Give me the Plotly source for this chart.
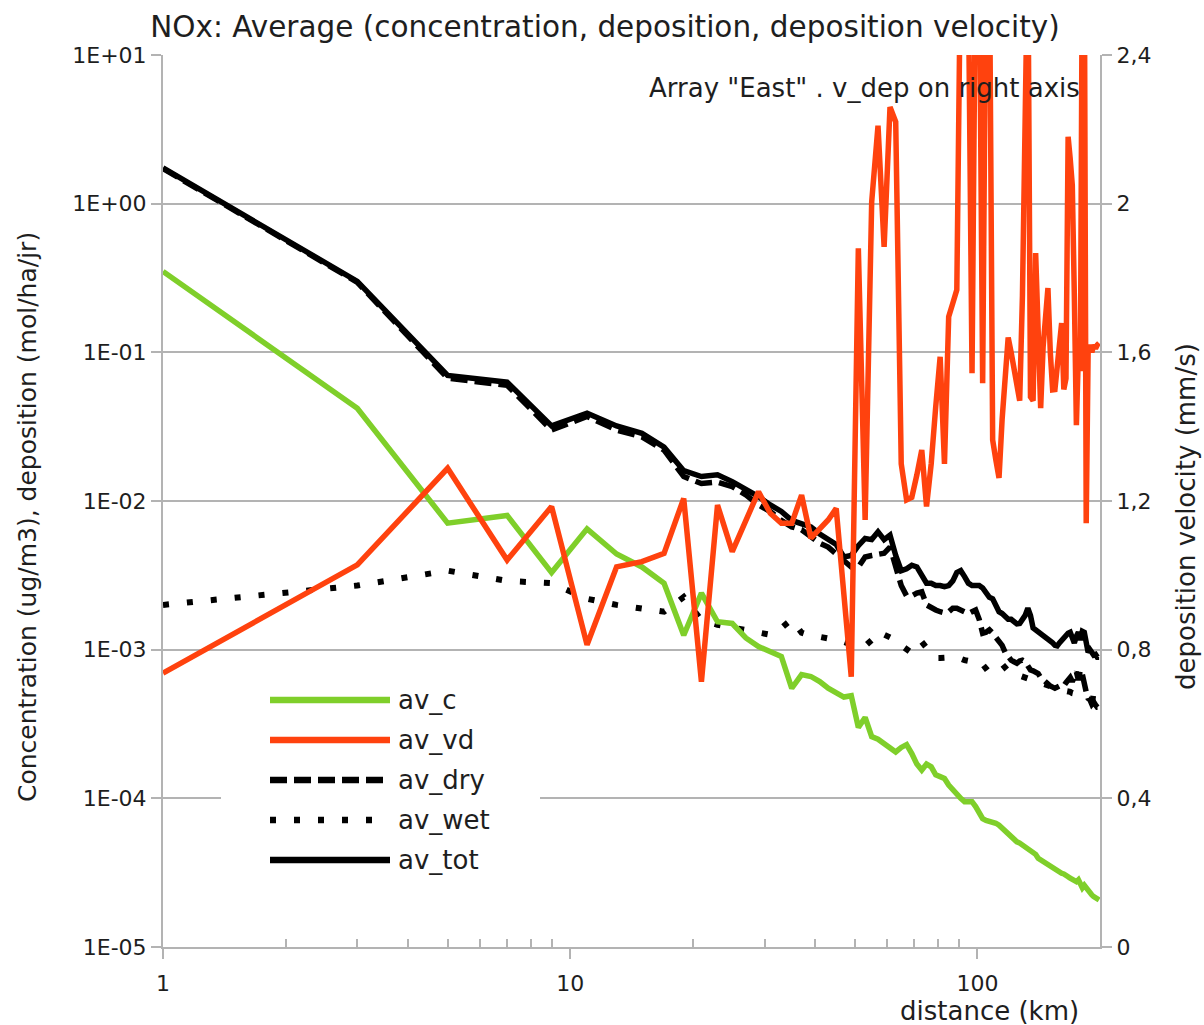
import plotly.graph_objects as go

# ---------------- data ----------------
DISTANCE_KM = [1, 3, 5, 7, 9, 11, 13, 15, 17, 19,
               21, 23, 25, 27, 29, 31, 33, 35, 37, 39,
               41, 43, 45, 47, 49, 51, 53, 55, 57, 59,
               61, 63, 65, 67, 69, 71, 73, 75, 77, 79,
               81, 83, 85, 87, 89, 91, 93, 95, 97, 99,
               101, 103, 105, 107, 109, 111, 113, 115, 117, 119,
               121, 123, 125, 127, 129, 131, 133, 135, 137, 139,
               141, 143, 145, 147, 149, 151, 153, 155, 157, 159,
               161, 163, 165, 167, 169, 171, 173, 175, 177, 179,
               181, 183, 185, 187, 189, 191, 193, 195, 197, 199]

AV_C = [0.35, 0.042, 7.1e-3, 8.0e-3, 3.3e-3, 6.5e-3, 4.4e-3, 3.6e-3, 2.8e-3, 1.25e-3,
        2.4e-3, 1.54e-3, 1.5e-3, 1.2e-3, 1.05e-3, 9.7e-4, 9.0e-4, 5.5e-4, 6.8e-4, 6.6e-4,
        6.1e-4, 5.5e-4, 5.1e-4, 4.8e-4, 4.9e-4, 3.0e-4, 3.5e-4, 2.6e-4, 2.5e-4, 2.35e-4,
        2.2e-4, 2.05e-4, 2.2e-4, 2.3e-4, 2.0e-4, 1.7e-4, 1.55e-4, 1.7e-4, 1.63e-4, 1.44e-4,
        1.4e-4, 1.36e-4, 1.23e-4, 1.14e-4, 1.05e-4, 1.0e-4, 9.5e-5, 9.5e-5, 9.5e-5, 8.8e-5,
        7.9e-5, 7.3e-5, 7.1e-5, 7.0e-5, 7.0e-5, 6.8e-5, 6.6e-5, 6.3e-5, 6.0e-5, 5.7e-5,
        5.4e-5, 5.25e-5, 5.1e-5, 5.0e-5, 4.85e-5, 4.6e-5, 4.5e-5, 4.4e-5, 4.3e-5, 4.2e-5,
        3.95e-5, 3.85e-5, 3.75e-5, 3.65e-5, 3.55e-5, 3.45e-5, 3.4e-5, 3.3e-5, 3.25e-5, 3.2e-5,
        3.13e-5, 3.1e-5, 3.0e-5, 2.97e-5, 2.9e-5, 2.87e-5, 2.83e-5, 2.75e-5, 2.83e-5, 2.6e-5,
        2.5e-5, 2.6e-5, 2.5e-5, 2.35e-5, 2.3e-5, 2.24e-5, 2.18e-5, 2.14e-5, 2.1e-5, 2.07e-5]

AV_VD = [0.737, 1.028, 1.288, 1.041, 1.185, 0.813, 1.023, 1.037, 1.059, 1.207,
         0.714, 1.189, 1.064, 1.149, 1.225, 1.167, 1.14, 1.14, 1.216, 1.10,
         1.127, 1.149, 1.18, 0.956, 0.727, 1.88, 1.149, 2.005, 2.21, 1.884,
         2.26, 2.22, 1.30, 1.203, 1.21, 1.27, 1.337, 1.185, 1.30, 1.454,
         1.588, 1.30, 1.696, 1.732, 1.768, 2.7, 2.7, 2.6, 1.544, 2.7,
         2.7, 1.517, 2.7, 2.7, 1.364, 1.31, 1.262, 1.42, 1.55, 1.64,
         1.60, 1.56, 1.52, 1.47, 1.754, 2.7, 2.7, 1.48, 1.47, 1.867,
         1.65, 1.45, 1.615, 1.70, 1.773, 1.60, 1.499, 1.50, 1.55, 1.62,
         1.679, 1.50, 1.53, 2.18, 2.12, 2.05, 1.75, 1.404, 1.60, 1.55,
         2.7, 2.7, 1.14, 1.598, 1.62, 1.60, 1.62, 1.61, 1.62, 1.625]

AV_DRY = [1.72, 0.296, 0.067, 0.060, 0.030, 0.037, 0.030, 0.027, 0.022, 0.0146,
          0.0131, 0.0134, 0.0125, 0.011, 9.4e-3, 8.5e-3, 7.4e-3, 6.7e-3, 6.4e-3, 5.7e-3,
          5.2e-3, 4.9e-3, 4.4e-3, 3.9e-3, 3.6e-3, 3.6e-3, 4.2e-3, 4.3e-3, 4.4e-3, 4.45e-3,
          4.9e-3, 3.7e-3, 2.7e-3, 2.3e-3, 2.3e-3, 2.4e-3, 2.45e-3, 2.0e-3, 1.9e-3, 1.85e-3,
          1.8e-3, 1.77e-3, 1.8e-3, 1.9e-3, 1.9e-3, 1.85e-3, 1.77e-3, 1.75e-3, 1.8e-3, 1.85e-3,
          1.6e-3, 1.29e-3, 1.31e-3, 1.36e-3, 1.29e-3, 1.21e-3, 1.16e-3, 1.07e-3, 9.6e-4, 8.9e-4,
          8.5e-4, 8.3e-4, 8.1e-4, 8.4e-4, 8.5e-4, 8.3e-4, 7.6e-4, 7.3e-4, 7.2e-4, 7.1e-4,
          6.9e-4, 6.5e-4, 6.25e-4, 6.1e-4, 5.9e-4, 5.7e-4, 5.6e-4, 5.5e-4, 5.6e-4, 5.7e-4,
          5.6e-4, 5.7e-4, 6.0e-4, 6.25e-4, 6.5e-4, 6.1e-4, 6.65e-4, 7.1e-4, 6.25e-4, 7.3e-4,
          6.8e-4, 5.6e-4, 5.2e-4, 4.7e-4, 4.6e-4, 4.3e-4, 4.45e-4, 4.25e-4, 4.1e-4, 4.1e-4]

AV_WET = [2.0e-3, 2.7e-3, 3.4e-3, 2.9e-3, 2.8e-3, 2.2e-3, 2.0e-3, 1.9e-3, 1.8e-3, 2.26e-3,
          1.58e-3, 1.47e-3, 1.4e-3, 1.34e-3, 1.3e-3, 1.26e-3, 1.4e-3, 1.6e-3, 1.3e-3, 1.24e-3,
          1.22e-3, 1.2e-3, 1.16e-3, 1.13e-3, 1.07e-3, 1.04e-3, 1.06e-3, 1.16e-3, 1.32e-3, 1.27e-3,
          1.22e-3, 1.16e-3, 1.07e-3, 1.0e-3, 9.5e-4, 1.04e-3, 1.13e-3, 1.03e-3, 9.5e-4, 8.8e-4,
          8.8e-4, 8.9e-4, 8.9e-4, 8.9e-4, 8.9e-4, 8.6e-4, 8.5e-4, 8.4e-4, 8.1e-4, 7.8e-4,
          7.4e-4, 7.3e-4, 7.6e-4, 8.0e-4, 8.3e-4, 8.4e-4, 8.3e-4, 8.0e-4, 7.5e-4, 7.1e-4,
          6.8e-4, 6.9e-4, 6.8e-4, 6.7e-4, 6.6e-4, 6.5e-4, 6.4e-4, 6.4e-4, 6.3e-4, 6.2e-4,
          6.1e-4, 6.0e-4, 5.95e-4, 5.9e-4, 5.8e-4, 5.7e-4, 5.6e-4, 5.5e-4, 5.5e-4, 5.4e-4,
          5.4e-4, 5.3e-4, 5.3e-4, 5.2e-4, 5.2e-4, 5.1e-4, 5.1e-4, 5.0e-4, 5.0e-4, 4.9e-4,
          4.9e-4, 4.9e-4, 4.8e-4, 4.8e-4, 4.7e-4, 4.7e-4, 4.7e-4, 4.6e-4, 4.6e-4, 4.6e-4]

AV_TOT = [1.74, 0.30, 0.070, 0.063, 0.032, 0.039, 0.032, 0.0285, 0.023, 0.016,
          0.0146, 0.015, 0.0135, 0.012, 0.0107, 9.4e-3, 8.5e-3, 7.4e-3, 7.1e-3, 6.7e-3,
          6.0e-3, 5.5e-3, 5.1e-3, 4.2e-3, 4.3e-3, 5.0e-3, 5.6e-3, 5.5e-3, 6.2e-3, 5.5e-3,
          5.9e-3, 4.3e-3, 3.4e-3, 3.5e-3, 3.7e-3, 3.6e-3, 3.2e-3, 2.8e-3, 2.8e-3, 2.7e-3,
          2.7e-3, 2.65e-3, 2.7e-3, 2.9e-3, 3.3e-3, 3.4e-3, 3.1e-3, 2.8e-3, 2.7e-3, 2.7e-3,
          2.7e-3, 2.6e-3, 2.45e-3, 2.25e-3, 2.2e-3, 2.0e-3, 1.8e-3, 1.75e-3, 1.65e-3, 1.6e-3,
          1.6e-3, 1.53e-3, 1.49e-3, 1.5e-3, 1.6e-3, 1.7e-3, 1.9e-3, 1.7e-3, 1.4e-3, 1.36e-3,
          1.31e-3, 1.27e-3, 1.25e-3, 1.23e-3, 1.2e-3, 1.14e-3, 1.11e-3, 1.07e-3, 1.06e-3, 1.11e-3,
          1.16e-3, 1.2e-3, 1.23e-3, 1.29e-3, 1.31e-3, 1.2e-3, 1.11e-3, 1.23e-3, 1.31e-3, 1.16e-3,
          1.33e-3, 1.31e-3, 1.07e-3, 9.6e-4, 1.0e-3, 9.5e-4, 9.2e-4, 9.3e-4, 8.9e-4, 8.9e-4]

SERIES_NAMES = ["av_c", "av_vd", "av_dry", "av_wet", "av_tot"]
LEFT_TICKS = [1e-5, 1e-4, 1e-3, 1e-2, 1e-1, 1, 10]
LEFT_TICKTEXT = ["1E-05", "1E-04", "1E-03", "1E-02", "1E-01", "1E+00", "1E+01"]
RIGHT_TICKS = [0, 0.4, 0.8, 1.2, 1.6, 2.0, 2.4]
RIGHT_TICKTEXT = ["0", "0,4", "0,8", "1,2", "1,6", "2", "2,4"]
X_TICKS = [1, 10, 100]
X_TICKTEXT = ["1", "10", "100"]
X_MINOR = [2, 3, 4, 5, 6, 7, 8, 9, 20, 30, 40, 50, 60, 70, 80, 90]

# ---------------- styling ----------------
FONT = "DejaVu Sans"
TXT = "#1e1e1e"
GRID = "#b3b3b3"
GREEN = "#7fcf2a"
RED = "#ff420e"
BLACK = "#000000"
LW = 5.5
DASH_DRY = "17px,7px"
DASH_WET = "6px,18px"

fig = go.Figure()

fig.add_trace(go.Scatter(x=DISTANCE_KM, y=AV_DRY, name=SERIES_NAMES[2], mode="lines",
                         line=dict(color=BLACK, width=LW, dash=DASH_DRY), yaxis="y"))
fig.add_trace(go.Scatter(x=DISTANCE_KM, y=AV_WET, name=SERIES_NAMES[3], mode="lines",
                         line=dict(color=BLACK, width=6, dash=DASH_WET), yaxis="y"))
fig.add_trace(go.Scatter(x=DISTANCE_KM, y=AV_TOT, name=SERIES_NAMES[4], mode="lines",
                         line=dict(color=BLACK, width=LW), yaxis="y"))
fig.add_trace(go.Scatter(x=DISTANCE_KM, y=AV_C, name=SERIES_NAMES[0], mode="lines",
                         line=dict(color=GREEN, width=LW), yaxis="y"))
fig.add_trace(go.Scatter(x=DISTANCE_KM, y=AV_VD, name=SERIES_NAMES[1], mode="lines",
                         line=dict(color=RED, width=LW), yaxis="y2"))

# plot-area geometry in pixels (used for placing decorations in paper coords)
W, H = 1204, 1025
L, R, T, B = 163, 104, 55, 78
PW, PH = W - L - R, H - T - B


def px_x(p):
    return (p - L) / PW


def px_y(p):
    return (H - B - p) / PH


fig.update_layout(
    width=W, height=H,
    margin=dict(l=L, r=R, t=T, b=B, pad=0),
    paper_bgcolor="white", plot_bgcolor="white",
    showlegend=False,
    font=dict(family=FONT, color=TXT),
    title=dict(text="NOx: Average (concentration, deposition, deposition velocity)",
               x=605 / W, xanchor="center", y=1 - 27 / H, yanchor="middle",
               font=dict(family=FONT, size=29.5, color=TXT)),
    xaxis=dict(type="log", range=[0, 2.30103], tickmode="array",
               tickvals=X_TICKS, ticktext=X_TICKTEXT,
               ticks="outside", ticklen=10, tickwidth=2, tickcolor=GRID,
               ticklabelstandoff=6,
               showline=True, linecolor=GRID, linewidth=2,
               showgrid=False, zeroline=False,
               tickfont=dict(family=FONT, size=22, color=TXT),
               minor=dict(tickmode="array", tickvals=X_MINOR, ticks="inside",
                          ticklen=8, tickwidth=2, tickcolor=GRID, showgrid=False)),
    yaxis=dict(type="log", range=[-5, 1], tickmode="array",
               tickvals=LEFT_TICKS, ticktext=LEFT_TICKTEXT,
               ticks="outside", ticklen=10, tickwidth=2, tickcolor=GRID,
               showline=True, linecolor=GRID, linewidth=2,
               showgrid=True, gridcolor=GRID, gridwidth=2, zeroline=False,
               tickfont=dict(family=FONT, size=22, color=TXT)),
    yaxis2=dict(overlaying="y", side="right", range=[0, 2.4], tickmode="array",
                tickvals=RIGHT_TICKS, ticktext=RIGHT_TICKTEXT,
                ticks="outside", ticklen=10, tickwidth=2, tickcolor=GRID,
                showline=True, linecolor=GRID, linewidth=2,
                showgrid=False, zeroline=False,
                tickfont=dict(family=FONT, size=22, color=TXT)),
)

annotations = [
    dict(text="Concentration (ug/m3), deposition (mol/ha/jr)", x=px_x(27), y=px_y(517),
         textangle=-90, font=dict(size=25)),
    dict(text="deposition velocity (mm/s)", x=px_x(1186), y=px_y(517),
         textangle=-90, font=dict(size=26)),
    dict(text="distance (km)", x=px_x(989), y=px_y(1011), font=dict(size=26)),
    dict(text='Array "East" . v_dep on right axis', x=px_x(1082), y=px_y(88),
         xanchor="right", font=dict(size=26)),
]
for a in annotations:
    a.update(xref="paper", yref="paper", showarrow=False,
             xanchor=a.get("xanchor", "center"), yanchor="middle")
    a["font"].update(family=FONT, color=TXT)

# custom legend (long line samples like the reference)
shapes = [dict(type="rect", xref="paper", yref="paper",
               x0=px_x(221), x1=px_x(540), y0=px_y(895), y1=px_y(668),
               fillcolor="white", line=dict(width=0), layer="above")]
legend_items = [(SERIES_NAMES[0], GREEN, "solid"),
                (SERIES_NAMES[1], RED, "solid"),
                (SERIES_NAMES[2], BLACK, DASH_DRY),
                (SERIES_NAMES[3], BLACK, DASH_WET),
                (SERIES_NAMES[4], BLACK, "solid")]
for i, (nm, col, dash) in enumerate(legend_items):
    yy = px_y(700 + 40 * i)
    shapes.append(dict(type="line", xref="paper", yref="paper",
                       x0=px_x(270), x1=px_x(390), y0=yy, y1=yy,
                       line=dict(color=col, width=6.5, dash=dash), layer="above"))
    annotations.append(dict(text=nm, xref="paper", yref="paper", x=px_x(396), y=yy,
                            xanchor="left", yanchor="middle", showarrow=False,
                            font=dict(family=FONT, size=26, color=TXT)))

fig.update_layout(annotations=annotations, shapes=shapes)

fig.write_html("out.html")
